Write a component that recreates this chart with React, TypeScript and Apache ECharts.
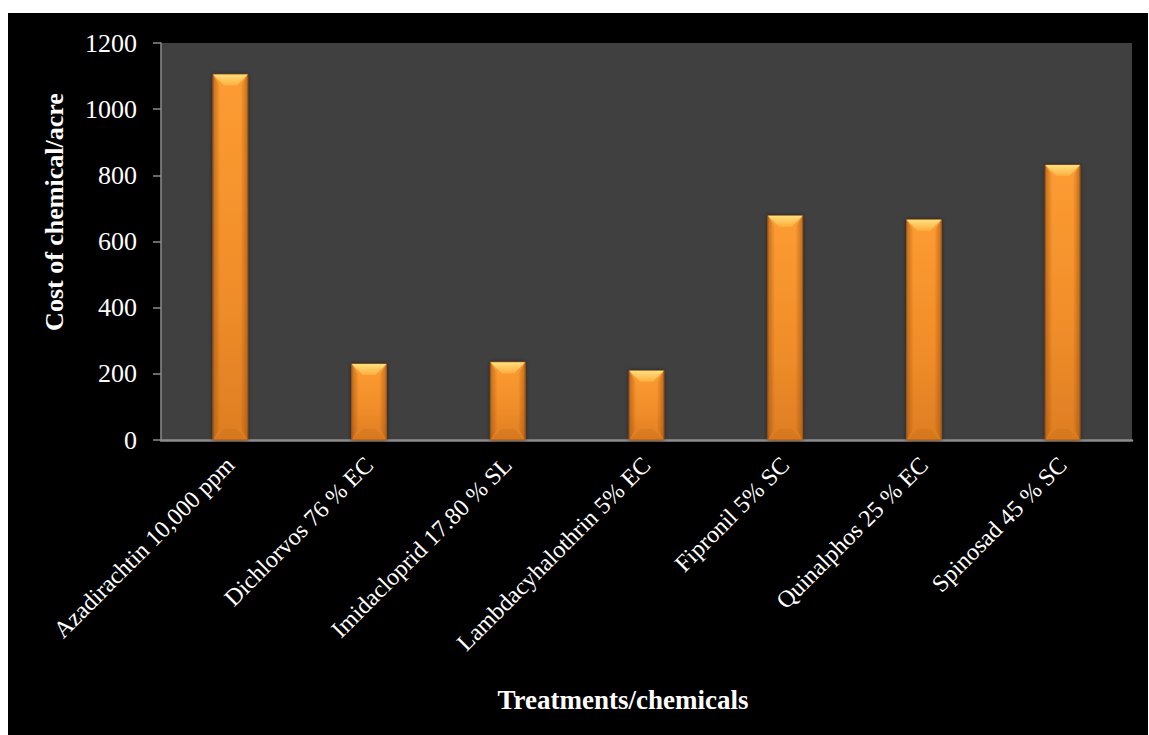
import React, { useEffect, useRef } from "react";
import * as echarts from "echarts";

// Treatments and their cost per acre
const treatments = [
  "Azadirachtin 10,000 ppm",
  "Dichlorvos 76 % EC",
  "Imidacloprid 17.80 % SL",
  "Lambdacyhalothrin 5% EC",
  "Fipronil 5% SC",
  "Quinalphos 25 % EC",
  "Spinosad 45 % SC",
];
const costPerAcre = [1105, 230, 235, 209, 678, 666, 831];

const yMin = 0;
const yMax = 1200;
const yStep = 200;

const SERIF = "'Liberation Serif', 'Times New Roman', serif";

// Bevelled orange column drawn from the category/value coordinates
function renderBevelBar(params: any, api: any) {
  const idx = api.value(0);
  const val = api.value(1);
  const top = api.coord([idx, val]);
  const base = api.coord([idx, 0]);
  const w = api.size([1, 0])[0] * 0.25;
  const x0 = top[0] - w / 2;
  const x1 = top[0] + w / 2;
  const y0 = top[1];
  const y1 = base[1];
  const h = y1 - y0;
  const b = Math.min(11, w / 3, h / 2);

  return {
    type: "group",
    children: [
      {
        type: "rect",
        shape: { x: x0, y: y0, width: w, height: h },
        style: {
          fill: new echarts.graphic.LinearGradient(0, 0, 0, 1, [
            { offset: 0, color: "#fd9c31" },
            { offset: 0.6, color: "#f08d2a" },
            { offset: 1, color: "#de7e23" },
          ]),
          stroke: "#a85a16",
          lineWidth: 1,
          shadowBlur: 4,
          shadowColor: "rgba(0,0,0,0.45)",
        },
      },
      // left bevel
      {
        type: "polygon",
        shape: {
          points: [
            [x0, y0],
            [x0 + b * 0.6, y0 + b],
            [x0 + b * 0.6, y1 - b],
            [x0, y1],
          ],
        },
        style: {
          fill: new echarts.graphic.LinearGradient(0, 0, 1, 0, [
            { offset: 0, color: "rgba(150,75,10,0.55)" },
            { offset: 1, color: "rgba(150,75,10,0.05)" },
          ]),
        },
      },
      // right bevel
      {
        type: "polygon",
        shape: {
          points: [
            [x1, y0],
            [x1 - b * 0.6, y0 + b],
            [x1 - b * 0.6, y1 - b],
            [x1, y1],
          ],
        },
        style: {
          fill: new echarts.graphic.LinearGradient(1, 0, 0, 0, [
            { offset: 0, color: "rgba(150,75,10,0.55)" },
            { offset: 1, color: "rgba(150,75,10,0.05)" },
          ]),
        },
      },
      // top bevel
      {
        type: "polygon",
        shape: {
          points: [
            [x0, y0],
            [x1, y0],
            [x1 - b, y0 + b],
            [x0 + b, y0 + b],
          ],
        },
        style: {
          fill: new echarts.graphic.LinearGradient(0, 0, 0, 1, [
            { offset: 0, color: "#ffe07c" },
            { offset: 1, color: "#fdae40" },
          ]),
        },
      },
      // bottom bevel
      {
        type: "polygon",
        shape: {
          points: [
            [x0, y1],
            [x1, y1],
            [x1 - b, y1 - b],
            [x0 + b, y1 - b],
          ],
        },
        style: { fill: "rgba(170,85,15,0.15)" },
      },
    ],
  };
}

export default function App() {
  const ref = useRef<HTMLDivElement>(null);

  useEffect(() => {
    if (!ref.current) return;
    const chart = echarts.init(ref.current, null, { renderer: "svg" });
    chart.setOption({
      animation: false,
      backgroundColor: "#000000",
      grid: {
        left: 153,
        top: 30,
        right: 16,
        bottom: 295,
        backgroundColor: "#404040",
        show: true,
        borderWidth: 0,
      },
      graphic: [
        {
          type: "text",
          x: 46,
          y: 199,
          rotation: Math.PI / 2,
          style: {
            text: "Cost of chemical/acre",
            fill: "#ffffff",
            font: `bold 26px ${SERIF}`,
            align: "center",
            verticalAlign: "middle",
          },
        },
        {
          type: "text",
          x: 615,
          y: 687,
          style: {
            text: "Treatments/chemicals",
            fill: "#ffffff",
            font: `bold 27px ${SERIF}`,
            align: "center",
            verticalAlign: "middle",
          },
        },
      ],
      xAxis: {
        type: "category",
        data: treatments,
        axisLine: { show: true, lineStyle: { color: "#8c8c8c", width: 2.5 } },
        axisTick: { show: false },
        axisLabel: {
          rotate: 45,
          interval: 0,
          margin: 21,
          color: "#ffffff",
          fontFamily: SERIF,
          fontSize: 24,
        },
        splitLine: { show: false },
      },
      yAxis: {
        type: "value",
        min: yMin,
        max: yMax,
        interval: yStep,
        axisLine: { show: true, lineStyle: { color: "#8c8c8c", width: 1.5 } },
        axisTick: {
          show: true,
          inside: false,
          length: 8,
          lineStyle: { color: "#8c8c8c", width: 1.5 },
        },
        axisLabel: {
          margin: 24,
          color: "#ffffff",
          fontFamily: SERIF,
          fontSize: 26,
          formatter: (v: number) => String(v),
        },
        splitLine: { show: false },
      },
      series: [
        {
          type: "custom",
          renderItem: renderBevelBar,
          encode: { x: 0, y: 1 },
          data: treatments.map((_, i) => [i, costPerAcre[i]]),
          clip: false,
        },
      ],
    });
    return () => chart.dispose();
  }, []);

  return (
    <div
      ref={ref}
      style={{ position: "absolute", left: 8, top: 13, width: 1140, height: 722 }}
    />
  );
}
